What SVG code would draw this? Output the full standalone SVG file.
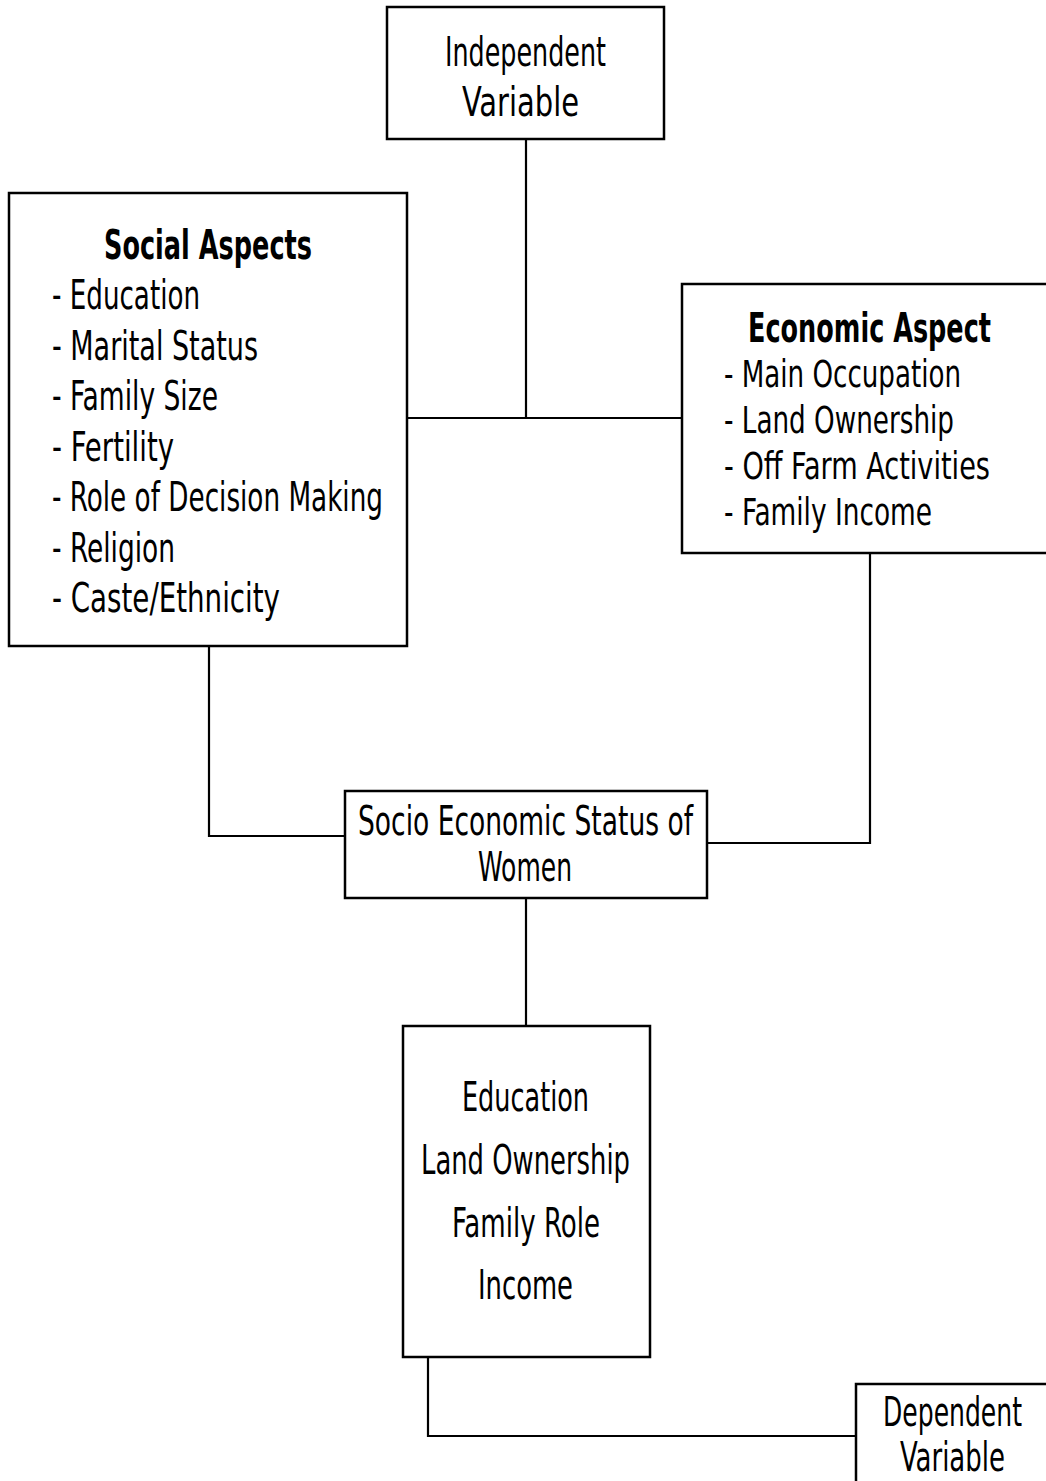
<svg xmlns="http://www.w3.org/2000/svg" width="1046" height="1481" viewBox="0 0 1046 1481">
<style>
.box{fill:#fff;stroke:#000;stroke-width:2.5}
.con{fill:none;stroke:#000;stroke-width:2.2}
text{font-family:"DejaVu Sans Condensed","DejaVu Sans","Liberation Sans",sans-serif;font-stretch:condensed;font-size:41px;fill:#000}
.b{font-weight:bold;font-size:40px}
.s{font-size:37px}
</style>
<rect width="1046" height="1481" fill="#fff"/>
<g id="connectors">
<path class="con" d="M526,139 V418 M407,418 H682"/>
<path class="con" d="M209,646 V836 H345"/>
<path class="con" d="M870,553 V843 H707"/>
<path class="con" d="M526,898 V1025"/>
<path class="con" d="M428,1357 V1436 H856"/>
</g>
<g id="independent">
<rect class="box" x="387" y="7" width="277" height="132"/>
<text x="445" y="66" textLength="161" lengthAdjust="spacingAndGlyphs">Independent</text>
<text x="462" y="116" textLength="117" lengthAdjust="spacingAndGlyphs">Variable</text>
</g>
<g id="social">
<rect class="box" x="9" y="193" width="398" height="453"/>
<text class="b" x="104" y="259" textLength="208" lengthAdjust="spacingAndGlyphs">Social Aspects</text>
<text x="52" y="309" textLength="148" lengthAdjust="spacingAndGlyphs">- Education</text>
<text x="52" y="360" textLength="206" lengthAdjust="spacingAndGlyphs">- Marital Status</text>
<text x="52" y="410" textLength="166" lengthAdjust="spacingAndGlyphs">- Family Size</text>
<text x="52" y="461" textLength="122" lengthAdjust="spacingAndGlyphs">- Fertility</text>
<text x="52" y="511" textLength="331" lengthAdjust="spacingAndGlyphs">- Role of Decision Making</text>
<text x="52" y="562" textLength="123" lengthAdjust="spacingAndGlyphs">- Religion</text>
<text x="52" y="612" textLength="228" lengthAdjust="spacingAndGlyphs">- Caste/Ethnicity</text>
</g>
<g id="economic">
<rect class="box" x="682" y="284" width="372" height="269"/>
<text class="b" x="748" y="342" textLength="243" lengthAdjust="spacingAndGlyphs">Economic Aspect</text>
<text class="s" x="724" y="387" textLength="237" lengthAdjust="spacingAndGlyphs">- Main Occupation</text>
<text class="s" x="724" y="433" textLength="230" lengthAdjust="spacingAndGlyphs">- Land Ownership</text>
<text class="s" x="724" y="479" textLength="266" lengthAdjust="spacingAndGlyphs">- Off Farm Activities</text>
<text class="s" x="724" y="525" textLength="208" lengthAdjust="spacingAndGlyphs">- Family Income</text>
</g>
<g id="ses">
<rect class="box" x="345" y="791" width="362" height="107"/>
<text x="358" y="835" textLength="335" lengthAdjust="spacingAndGlyphs">Socio Economic Status of</text>
<text x="478" y="881" textLength="94" lengthAdjust="spacingAndGlyphs">Women</text>
</g>
<g id="dependent-items">
<rect class="box" x="403" y="1026" width="247" height="331"/>
<text x="462" y="1111" textLength="127" lengthAdjust="spacingAndGlyphs">Education</text>
<text x="421" y="1174" textLength="209" lengthAdjust="spacingAndGlyphs">Land Ownership</text>
<text x="452" y="1237" textLength="148" lengthAdjust="spacingAndGlyphs">Family Role</text>
<text x="478" y="1299" textLength="95" lengthAdjust="spacingAndGlyphs">Income</text>
</g>
<g id="dependent">
<rect class="box" x="856" y="1384" width="200" height="110"/>
<text x="883" y="1426" textLength="139" lengthAdjust="spacingAndGlyphs">Dependent</text>
<text x="900" y="1471" textLength="105" lengthAdjust="spacingAndGlyphs">Variable</text>
</g>
</svg>
